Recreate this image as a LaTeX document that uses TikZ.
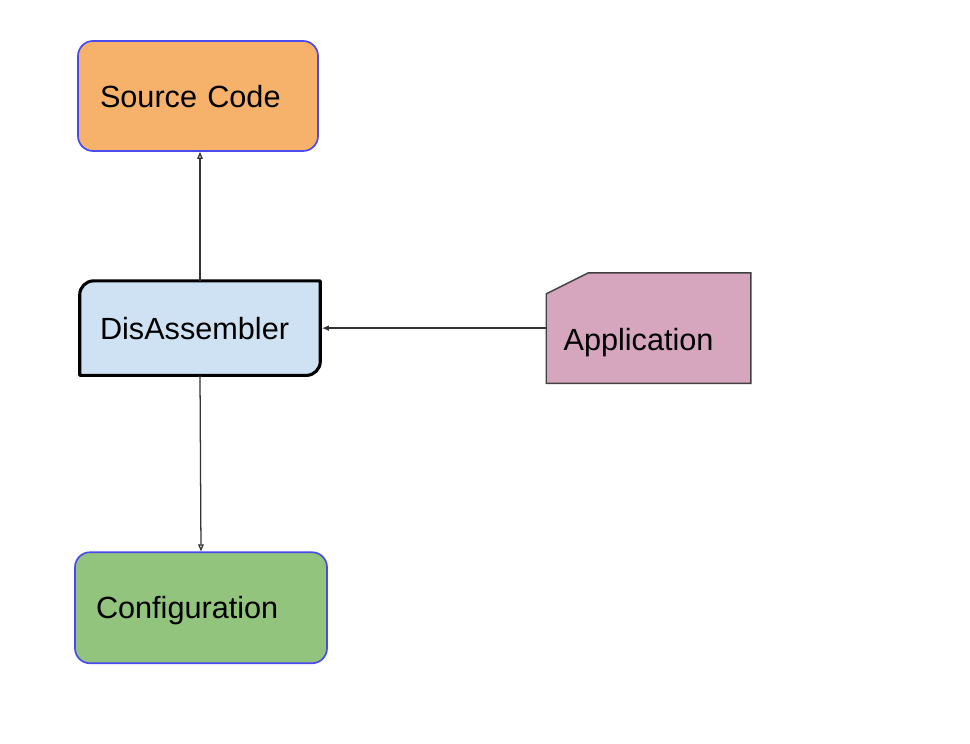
\documentclass[tikz,border=0pt]{standalone}
\usepackage{fontspec}
\setmainfont{Liberation Sans}
\usetikzlibrary{arrows.meta, positioning, backgrounds}

\definecolor{srcfill}{HTML}{F6B26B}
\definecolor{disfill}{HTML}{CFE2F3}
\definecolor{appfill}{HTML}{D5A6BD}
\definecolor{cfgfill}{HTML}{93C47D}
\definecolor{edgeblue}{HTML}{4A4AF0}

\begin{document}
\begin{tikzpicture}[
    >=Stealth, node distance=1cm,
    box/.style={minimum height=2.75cm, align=left, text depth=0pt,
                font=\fontsize{21.8}{26}\selectfont},
    link/.style={line width=0.9pt, draw=black!80}
  ]
  \useasboundingbox (0,0) rectangle (24.25,-18.6);

  \node[box, draw=edgeblue, line width=1.2pt, rounded corners=0.375cm,
        fill=srcfill, inner xsep=0.55cm, text width=4.9cm] (src)
    at (4.95,-2.4) {Source Code};
  \node[box, minimum height=2.35cm, inner xsep=0.5cm, text width=5cm,
        below=3.225cm of src, xshift=0.05cm] (dis) {DisAssembler};
  \node[box, inner xsep=0.425cm, text width=4.25cm, text height=37pt,
        text depth=4.6pt, right=5.65cm of dis] (app) {Application};
  \node[box, draw=edgeblue, line width=1.2pt, rounded corners=0.375cm,
        fill=cfgfill, minimum height=2.775cm, inner xsep=0.525cm,
        text width=5.25cm, below=4.4cm of dis, xshift=0.025cm] (cfg)
    {Configuration};

  \begin{scope}[on background layer]
    % only two corners of the disassembler are rounded
    \draw[line width=2.2pt, fill=disfill, line join=round]
      (dis.south west) -- ([yshift=-0.35cm]dis.north west)
      arc[start angle=180, end angle=90, radius=0.35cm]
      -- (dis.north east) -- ([yshift=0.35cm]dis.south east)
      arc[start angle=0, end angle=-90, radius=0.35cm] -- cycle;
    % application card with a cut corner
    \draw[line width=1pt, draw=black!75, fill=appfill]
      (app.south west) -- ([yshift=-0.525cm]app.north west)
      -- ([xshift=1.05cm]app.north west) -- (app.north east)
      -- (app.south east) -- cycle;
  \end{scope}

  \draw[link, -{Triangle[open, length=5pt, width=4pt]}]
    (dis.north) -- (dis.north |- src.south);
  \draw[link, -{Triangle[open, length=5pt, width=4pt]}]
    (dis.south) -- (cfg.north);
  \draw[link, -{Latex[length=5pt, width=4pt]}, shorten >=1.1pt]
    (app.west) -- (dis.east);
\end{tikzpicture}
\end{document}
